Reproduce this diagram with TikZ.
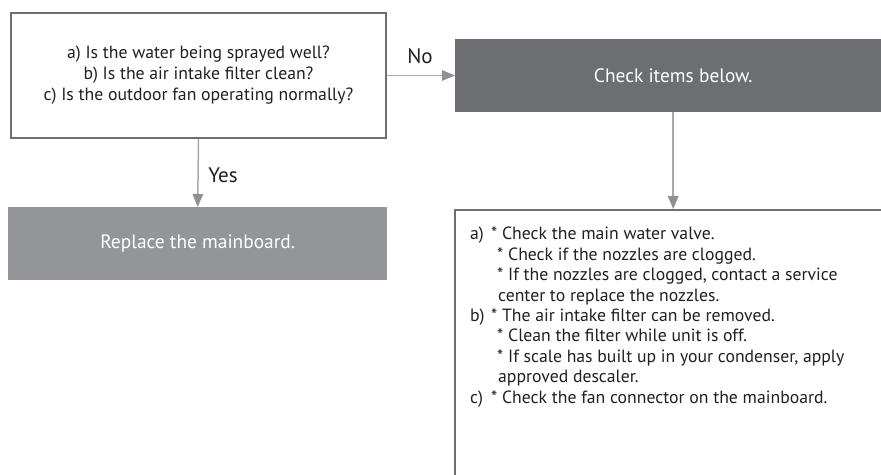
\documentclass[tikz,border=0pt]{standalone}
\usepackage{fontspec}
\setmainfont{PT Sans}
\usetikzlibrary{arrows.meta}
\definecolor{boxdark}{HTML}{6D6E71}
\definecolor{boxmid}{HTML}{939598}
\definecolor{arrline}{HTML}{A7A9AC}
\definecolor{arrhead}{HTML}{8F9094}
\definecolor{txt}{HTML}{231F20}
\newcommand{\lab}[1]{\makebox[21pt][l]{#1}}
\newcommand{\sub}{\makebox[27pt][l]{}}
\newcommand{\cont}{\makebox[28pt][l]{}}
\tikzset{
  qbox/.style={draw=boxdark, line width=2pt, fill=white, anchor=north west, inner sep=0pt, align=center, text=txt},
  darkfill/.style={fill=boxdark, draw=none, anchor=north west, inner sep=0pt},
  midfill/.style={fill=boxmid, draw=none, anchor=north west, inner sep=0pt},
  wlabel/.style={text=white, inner sep=0pt, font=\fontsize{19.4}{23}\selectfont},
  arr/.style={draw=arrline, line width=1.5pt, -{Triangle[length=13pt,width=10.5pt,color=arrhead]}},
  lbl/.style={text=txt, inner sep=0pt},
  bodyfont/.style={font=\fontsize{17.7}{21}\selectfont},
  edgefont/.style={font=\fontsize{21}{25}\selectfont},
}
\begin{document}
\begin{tikzpicture}[x=1pt,y=-1pt]
\useasboundingbox (0,0) rectangle (881,474);
\clip (0,0) rectangle (881,474);
\fill[white] (0,0) rectangle (881,474);

% question box
\node[qbox, bodyfont, minimum width=375pt, minimum height=125pt] (q) at (10,12)
  {a) Is the water being sprayed well?\\ b) Is the air intake filter clean?\\ c) Is the outdoor fan operating normally?};

% check box (dark)
\node[darkfill, minimum width=436pt, minimum height=73pt] (check) at (455,39) {};
\node[wlabel] (checktext) at (check.center) {Check items below.};

% replace box
\node[midfill, minimum width=379pt, minimum height=73pt] (replace) at (8,207) {};
\node[wlabel] (replacetext) at (replace.center) {Replace the mainboard.};

% items box
\node[draw=boxdark, line width=2pt, anchor=north west, minimum width=450pt, minimum height=290pt, inner sep=0pt] (items) at (454,209) {};
\node[lbl, anchor=north west, align=left, font=\fontsize{17.7}{20.4}\selectfont] (itemstext) at (470,227)
  {\lab{a)}* Check the main water valve.\\
   \sub* Check if the nozzles are clogged.\\
   \sub* If the nozzles are clogged, contact a service\\
   \cont center to replace the nozzles.\\
   \lab{b)}* The air intake filter can be removed.\\
   \sub* Clean the filter while unit is off.\\
   \sub* If scale has built up in your condenser, apply\\
   \cont approved descaler.\\
   \lab{c)}* Check the fan connector on the mainboard.};

% connectors
\draw[arr] (q.south) -- (replace.north);
\draw[arr] (q.east) -- (q.east -| check.west);
\draw[arr] (check.south -| checktext.center) -- (checktext.center |- items.north);

% labels
\node[lbl, edgefont] (nolabel) at (420,56) {No};
\node[lbl, edgefont] (yeslabel) at (223,175) {Yes};
\end{tikzpicture}
\end{document}
